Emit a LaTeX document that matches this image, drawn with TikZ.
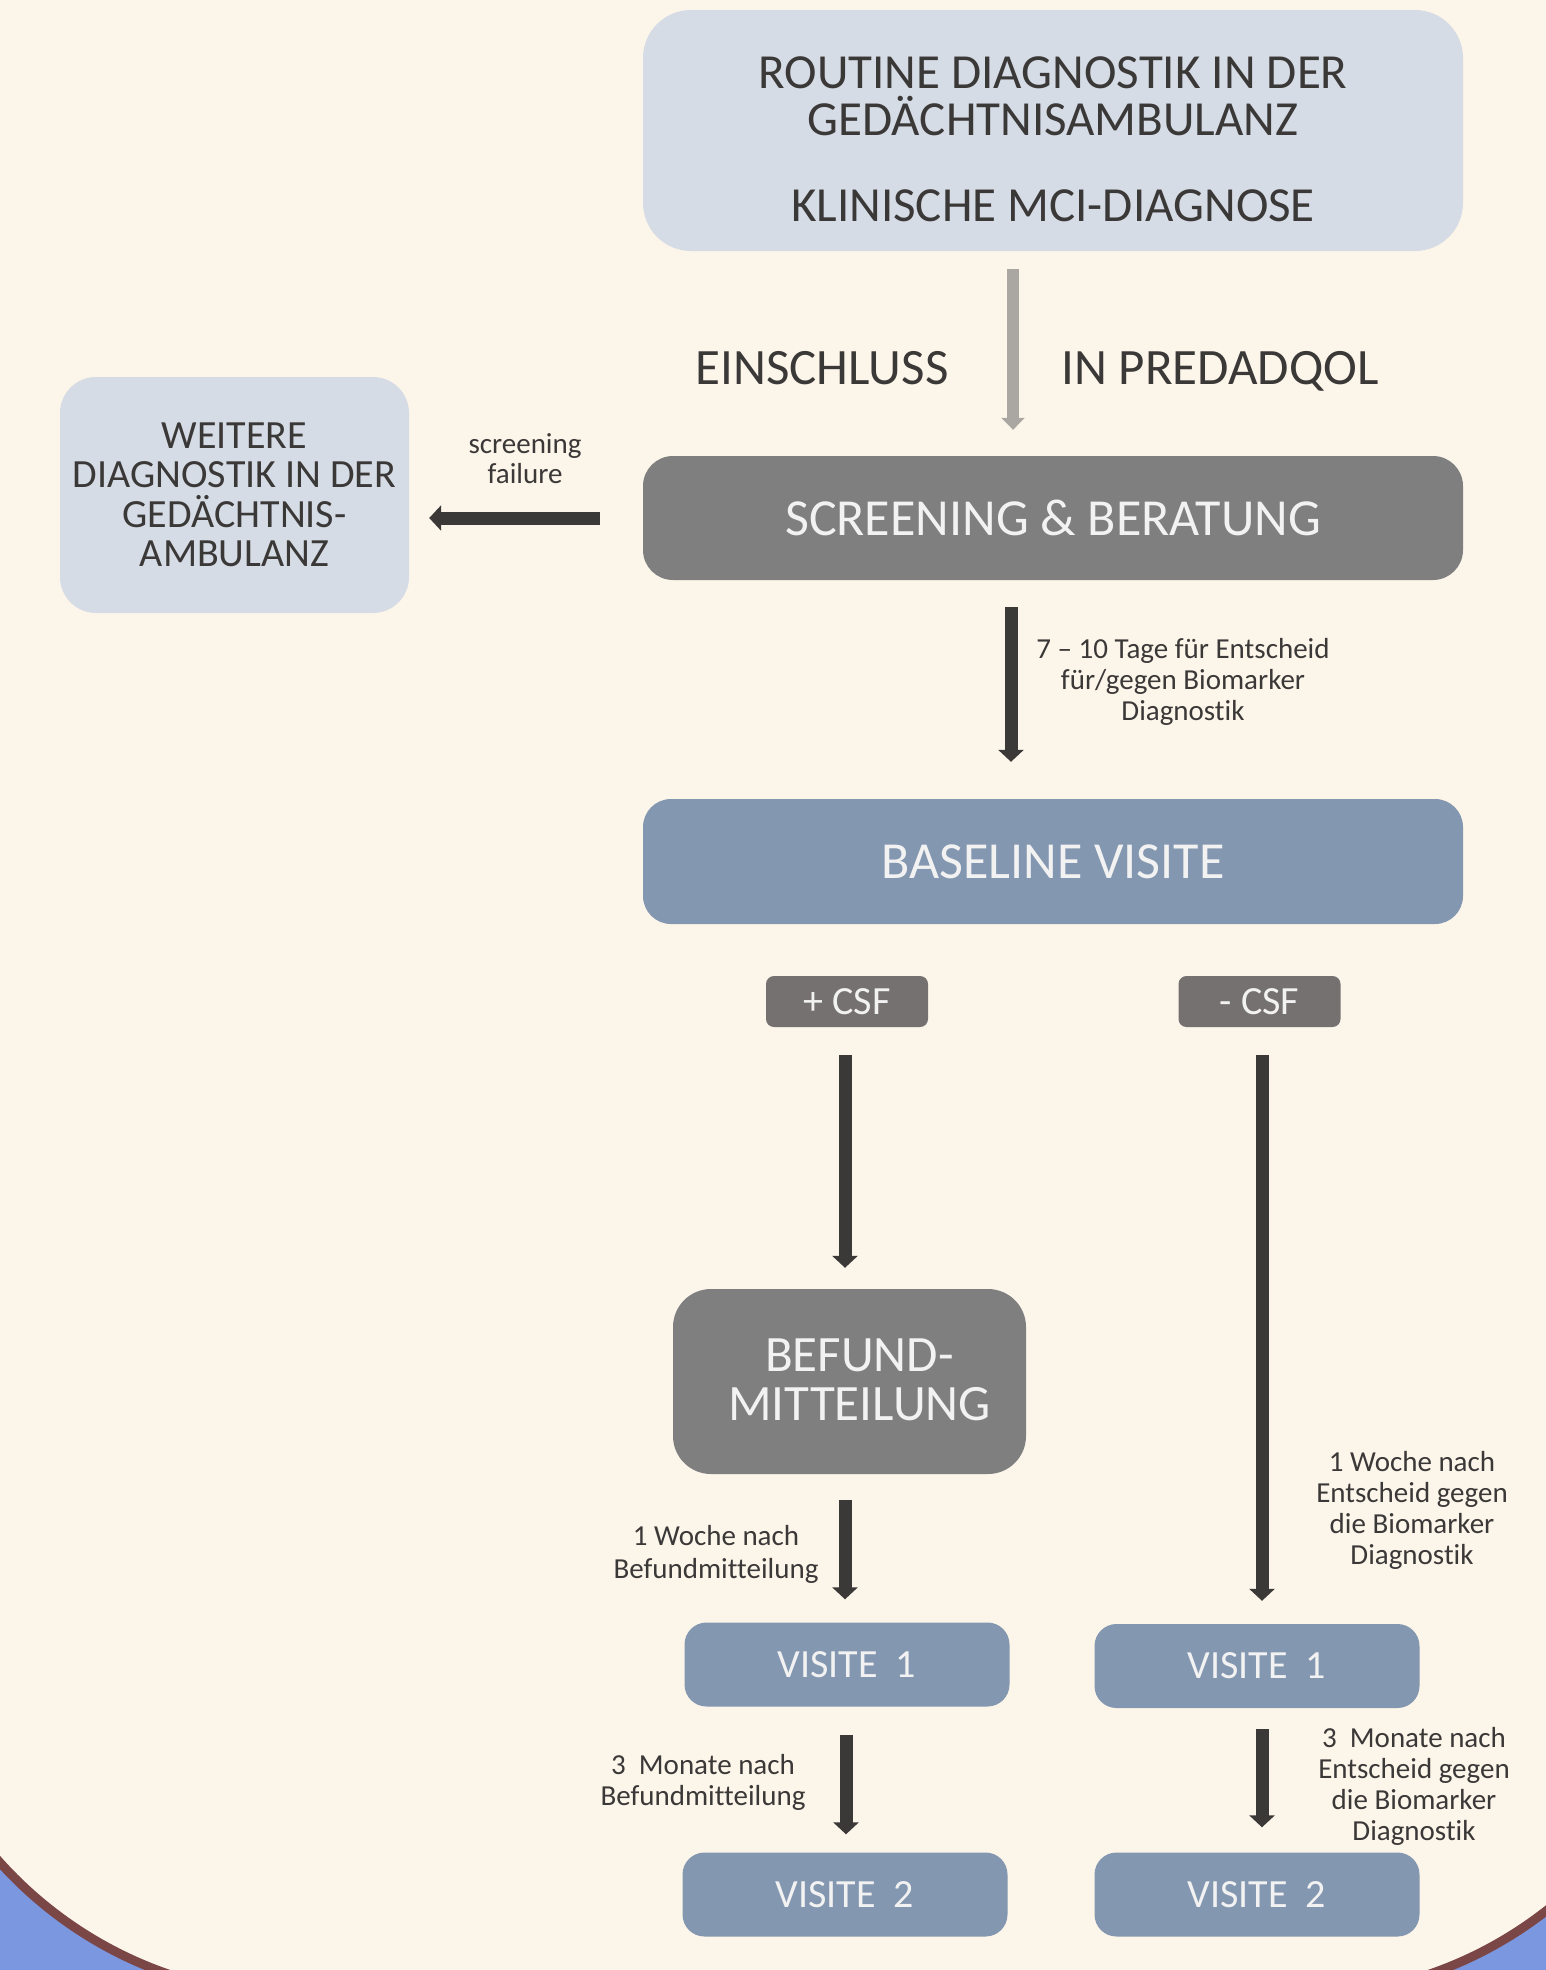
\documentclass[tikz,border=0pt]{standalone}
\usepackage{fontspec}
\setmainfont{Carlito}[Ligatures={NoCommon}]
\usetikzlibrary{arrows.meta,calc}
\definecolor{cream}{HTML}{FCF5EA}
\definecolor{outerblue}{HTML}{7B97E0}
\definecolor{rim}{HTML}{7B4646}
\definecolor{lightbg}{HTML}{D6DCE5}
\definecolor{midgrey}{HTML}{7F7F7F}
\definecolor{steel}{HTML}{8497B0}
\definecolor{csfgrey}{HTML}{767171}
\definecolor{darkarrow}{HTML}{3B3838}
\definecolor{greyarrow}{HTML}{AAA6A2}
\definecolor{darktext}{HTML}{3B3838}
\definecolor{lighttext}{HTML}{F2F2F2}
\tikzset{
  boxbase/.style={inner sep=0pt, anchor=center, align=center, draw=none},
  lightbox/.style={boxbase, fill=lightbg, text=darktext},
  greybox/.style={boxbase, fill=midgrey, text=lighttext},
  steelbox/.style={boxbase, fill=steel, text=lighttext},
  csfbox/.style={boxbase, fill=csfgrey, text=lighttext, rounded corners=8pt,
    minimum width=162pt, minimum height=51pt, font=\fontsize{40}{40}\selectfont},
  visbox/.style={steelbox, rounded corners=22pt, minimum width=325pt,
    minimum height=84pt, font=\fontsize{40}{40}\selectfont},
  smalltxt/.style={inner sep=0pt, align=center, text=darktext,
    font=\fontsize{29}{31}\selectfont},
  bigtxt/.style={inner sep=0pt, align=center, text=darktext,
    font=\fontsize{51}{51}\selectfont},
  darrow/.style={draw=darkarrow, line width=13pt, line cap=butt,
    -{Triangle[width=25pt,length=12pt]}, darkarrow},
  garrow/.style={draw=greyarrow, line width=12pt, line cap=butt,
    -{Triangle[width=23pt,length=12pt]}, greyarrow},
}
\begin{document}
\begin{tikzpicture}[x=1pt,y=-1pt]
\useasboundingbox (0,0) rectangle (1546,1970);
% background
\fill[outerblue] (0,0) rectangle (1546,1970);
\draw[rim, line width=9pt, fill=cream, rounded corners=404pt] (-104,-700) rectangle (1702,1996);

% boxes
\node[lightbox, rounded corners=48pt, minimum width=820pt, minimum height=241pt] (top) at (1053,130.5) {};
\node[inner sep=0pt, align=center, text=darktext, font=\fontsize{49}{47}\selectfont] (toptext) at (1053,139)
  {ROUTINE DIAGNOSTIK IN DER\\GEDÄCHTNISAMBULANZ\\[39pt]KLINISCHE MCI-DIAGNOSE};

\node[lightbox, rounded corners=36pt, minimum width=349pt, minimum height=236pt,
  font=\fontsize{40}{39.5}\selectfont] (weitere) at (234.5,495)
  {WEITERE\\DIAGNOSTIK IN DER\\GEDÄCHTNIS-\\AMBULANZ};

\node[greybox, rounded corners=30pt, minimum width=820pt, minimum height=124pt,
  font=\fontsize{52}{52}\selectfont] (screen) at (1053,518) {SCREENING \& BERATUNG};

\node[steelbox, rounded corners=28pt, minimum width=820pt, minimum height=125pt,
  font=\fontsize{52}{52}\selectfont] (baseline) at (1053,861.5) {BASELINE VISITE};

\node[csfbox] (csfp) at (847,1001.5) {+ CSF};
\node[csfbox] (csfm) at (1259.5,1001.5) {- CSF};

\node[greybox, rounded corners=38pt, minimum width=353pt, minimum height=185pt] (befund) at (849.5,1381.5) {};
\node[inner sep=0pt, align=center, text=lighttext, font=\fontsize{51}{49}\selectfont] (befundtext) at (859.5,1380)
  {BEFUND-\\MITTEILUNG};

\node[visbox] (v1l) at (847,1664.5) {VISITE\ \ 1};
\node[visbox] (v1r) at (1257,1666) {VISITE\ \ 1};
\node[visbox] (v2l) at (845,1894.5) {VISITE\ \ 2};
\node[visbox] (v2r) at (1257,1894.5) {VISITE\ \ 2};

% texts
\node[bigtxt] (ein) at (822,368) {EINSCHLUSS};
\node[bigtxt] (inp) at (1220,371) {IN PREDADQOL};
\node[smalltxt, font=\fontsize{29}{30}\selectfont] (sf) at (525,459) {screening\\failure};
\node[smalltxt] (t710) at (1183,682) {7 – 10 Tage für Entscheid\\für/gegen Biomarker\\Diagnostik};
\node[smalltxt, font=\fontsize{29}{33}\selectfont] (w1l) at (716,1554) {1 Woche nach\\Befundmitteilung};
\node[smalltxt] (w1r) at (1412,1510) {1 Woche nach\\Entscheid gegen\\die Biomarker\\Diagnostik};
\node[smalltxt] (m3l) at (703,1782) {3\ \ Monate nach\\Befundmitteilung};
\node[smalltxt] (m3r) at (1414,1786) {3\ \ Monate nach\\Entscheid gegen\\die Biomarker\\Diagnostik};

% arrow columns
\coordinate (xa) at (1013,0);
\coordinate (xb) at (1011,0);
\coordinate (xc) at (845,0);
\coordinate (xd) at (1262,0);
\coordinate (xe) at (846,0);

\draw[garrow, shorten <=18pt, shorten >=26pt] (top.south -| xa) -- (screen.north -| xa);
\draw[darrow, shorten <=43pt, shorten >=20pt] (screen.west) -- (weitere.east |- screen.west);
\draw[darrow, shorten <=27pt, shorten >=37pt] (screen.south -| xb) -- (baseline.north -| xb);
\draw[darrow, shorten <=28pt, shorten >=21pt] (csfp.south -| xc) -- (befund.north -| xc);
\draw[darrow, shorten <=28pt, shorten >=23pt] (csfm.south -| xd) -- (v1r.north -| xd);
\draw[darrow, shorten <=26pt, shorten >=23pt] (befund.south -| xc) -- (v1l.north -| xc);
\draw[darrow, shorten <=28pt, shorten >=18pt] (v1l.south -| xe) -- (v2l.north -| xe);
\draw[darrow, shorten <=21pt, shorten >=25pt] (v1r.south -| xd) -- (v2r.north -| xd);
\end{tikzpicture}
\end{document}
